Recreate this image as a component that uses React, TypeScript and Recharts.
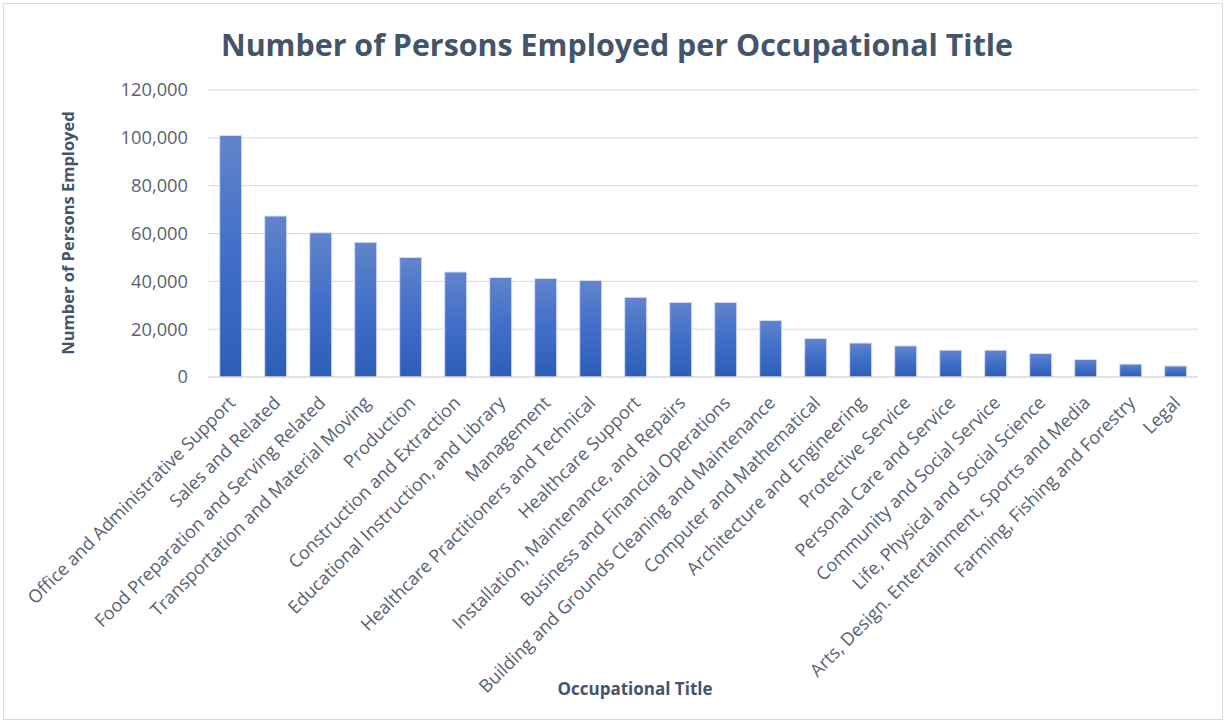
import React from 'react';
import { BarChart, Bar, XAxis, YAxis, CartesianGrid } from 'recharts';

const categories: string[] = [
  'Office and Administrative Support',
  'Sales and Related',
  'Food Preparation and Serving Related',
  'Transportation and Material Moving',
  'Production',
  'Construction and Extraction',
  'Educational Instruction, and Library',
  'Management',
  'Healthcare Practitioners and Technical',
  'Healthcare Support',
  'Installation, Maintenance, and Repairs',
  'Business and Financial Operations',
  'Building and Grounds Cleaning and Maintenance',
  'Computer and Mathematical',
  'Architecture and Engineering',
  'Protective Service',
  'Personal Care and Service',
  'Community and Social Service',
  'Life, Physical and Social Science',
  'Arts, Design. Entertainment, Sports and Media',
  'Farming, Fishing and Forestry',
  'Legal',
];

const employed: number[] = [
  101000, 67300, 60300, 56300, 50000, 43900, 41600, 41200, 40400, 33300, 31200,
  31200, 23600, 16100, 14200, 13000, 11200, 11200, 9800, 7300, 5400, 4600,
];

const yTicks: number[] = [0, 20000, 40000, 60000, 80000, 100000, 120000];

const data = categories.map((name, i) => ({ name, value: employed[i] }));

const FONT = "'Open Sans', 'Noto Sans', sans-serif";
const TICK_COLOR = '#596273';
const TITLE_COLOR = '#44546A';

const XTick = (props: any) => {
  const { x, y, payload } = props;
  const ax = x + 1;
  const ay = y + 14;
  return (
    <text
      x={ax}
      y={ay}
      transform={`rotate(-45, ${ax}, ${ay})`}
      textAnchor="end"
      dominantBaseline="central"
      fill={TICK_COLOR}
      fontSize={18}
      fontFamily={FONT}
    >
      {payload.value}
    </text>
  );
};

export default function App() {
  return (
    <div style={{ position: 'absolute', left: 0, top: 0, width: 1226, height: 722, background: '#fff' }}>
      <svg width={0} height={0} style={{ position: 'absolute' }}>
        <defs>
          <linearGradient id="barGrad" x1="0" y1="0" x2="0" y2="1">
            <stop offset="0%" stopColor="#6284CB" />
            <stop offset="50%" stopColor="#406EC8" />
            <stop offset="100%" stopColor="#2E5DB8" />
          </linearGradient>
        </defs>
      </svg>
      <div
        style={{
          position: 'absolute',
          left: 3,
          top: 3,
          width: 1218,
          height: 715,
          border: '1px solid #d9d9d9',
        }}
      />
      <div
        style={{
          position: 'absolute',
          left: 0,
          top: 24,
          width: 1234,
          textAlign: 'center',
          fontFamily: FONT,
          fontWeight: 700,
          fontSize: 30.4,
          color: TITLE_COLOR,
          lineHeight: '42px',
        }}
      >
        Number of Persons Employed per Occupational Title
      </div>
      <div
        style={{
          position: 'absolute',
          left: 67,
          top: 233,
          transform: 'translate(-50%, -50%) rotate(-90deg)',
          whiteSpace: 'nowrap',
          fontFamily: FONT,
          fontWeight: 700,
          fontSize: 16.5,
          color: TITLE_COLOR,
        }}
      >
        Number of Persons Employed
      </div>
      <div
        style={{
          position: 'absolute',
          left: 635,
          top: 688,
          transform: 'translate(-50%, -50%)',
          whiteSpace: 'nowrap',
          fontFamily: FONT,
          fontWeight: 700,
          fontSize: 17,
          color: TITLE_COLOR,
        }}
      >
        Occupational Title
      </div>
      <div style={{ position: 'absolute', left: 0, top: 0 }}>
        <BarChart
          width={1226}
          height={722}
          data={data}
          margin={{ top: 90, right: 28, left: 108, bottom: 45 }}
          barCategoryGap="26%"
        >
          <CartesianGrid vertical={false} stroke="#d9d9d9" strokeWidth={1} />
          <XAxis
            dataKey="name"
            interval={0}
            height={300}
            tick={<XTick />}
            tickLine={false}
            axisLine={{ stroke: '#d9d9d9' }}
          />
          <YAxis
            width={100}
            domain={[0, 120000]}
            ticks={yTicks}
            tickLine={false}
            axisLine={false}
            tickSize={0}
            tickMargin={20}
            tickFormatter={(v: number) => v.toLocaleString('en-US')}
            tick={{ fill: TICK_COLOR, fontSize: 18.3, fontFamily: FONT }}
          />
          <Bar
            dataKey="value"
            fill="url(#barGrad)"
            stroke="#d5def2"
            strokeWidth={1}
            isAnimationActive={false}
          />
        </BarChart>
      </div>
    </div>
  );
}
